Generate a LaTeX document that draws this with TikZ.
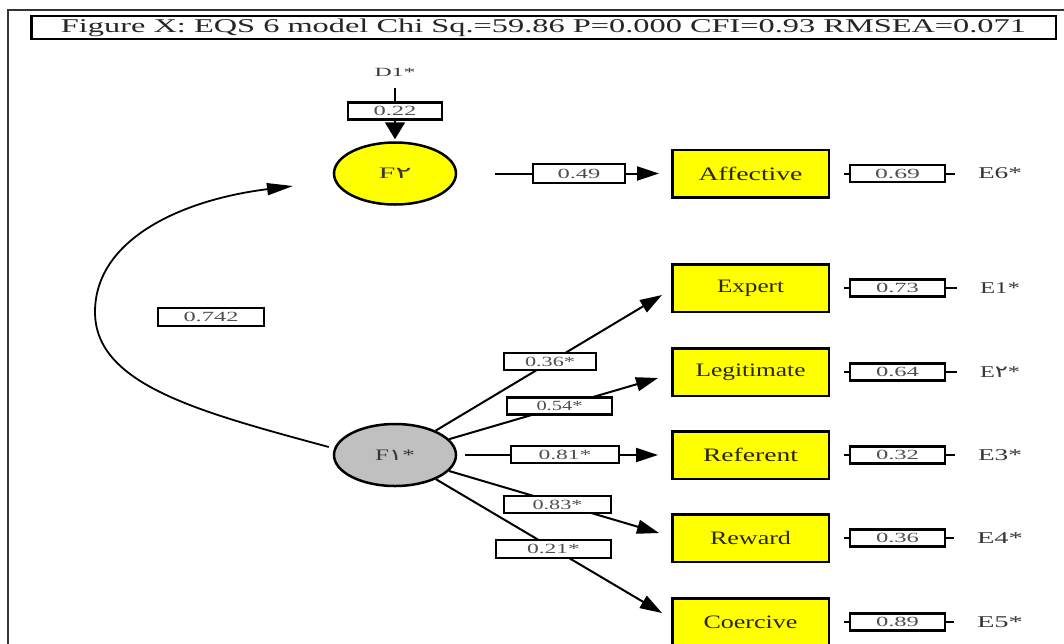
\documentclass[tikz,border=0pt]{standalone}
\usepackage{fontspec}
\setmainfont{Liberation Serif}
\newfontfamily\pfont{DejaVu Sans}
\usetikzlibrary{arrows.meta,shapes.geometric}
\newcommand{\fitw}[2]{\resizebox{#1}{\height}{#2}}
\definecolor{yel}{RGB}{255,255,0}
\definecolor{ell}{RGB}{192,192,192}
\definecolor{numc}{RGB}{80,80,80}
\definecolor{itc}{RGB}{40,40,0}
\definecolor{ec}{RGB}{55,55,55}
\begin{document}
\begin{tikzpicture}[x=1pt,y=-1pt,
  item/.style={draw=black, line width=2.5pt, fill=yel, minimum width=156.5pt, minimum height=47.5pt, inner sep=0pt, font=\fontsize{19}{19}\selectfont, text=itc},
  latent/.style={ellipse, draw=black, line width=2.5pt, minimum width=122pt, minimum height=62pt, inner sep=0pt, font=\fontsize{16}{16}\selectfont, text=ec},
  lab/.style={draw=black, line width=2.4pt, fill=white, inner sep=0pt, minimum height=17pt, font=\fontsize{14}{14}\selectfont, text=numc},
  errlab/.style={lab, minimum width=95pt},
  etext/.style={inner sep=0pt, font=\fontsize{16.5}{16.5}\selectfont, text=ec},
  conn/.style={line width=2pt, draw=black},
  arr/.style={conn, -{Triangle[length=22pt,width=14pt]}}
]
\useasboundingbox (0,0) rectangle (1064,643);
\clip (0,0) rectangle (1064,643);
\fill[white] (0,0) rectangle (1064,643);

% outer frame
\draw[line width=2pt, black!80] (8,660) -- (8,10) -- (1070,10);

% title
\node[draw=black, line width=2.5pt, minimum width=1024.5pt, minimum height=23pt, inner sep=0pt,
      font=\fontsize{19.5}{19.5}\selectfont, text=black!85] (title) at (543.5,27.5)
  {\fitw{965pt}{Figure X: EQS 6 model Chi Sq.=59.86 P=0.000 CFI=0.93 RMSEA=0.071}};

% latent variables
\node[inner sep=0pt, font=\fontsize{12.5}{12.5}\selectfont, text=ec] (D1) at (395,72) {\fitw{41pt}{D1*}};
\node[latent, fill=yel] (F2) at (395,173.5) {\fitw{33pt}{F{\pfont ۲}}};
\node[latent, fill=ell] (F1) at (395,455) {\fitw{40pt}{F{\pfont ۱}*}};

% indicators
\node[item] (Aff) at (750.5,173.5) {\fitw{104pt}{Affective}};
\node[item] (Exp) at (750.5,288) {\fitw{67pt}{Expert}};
\node[item] (Leg) at (750.5,372) {\fitw{110pt}{Legitimate}};
\node[item] (Ref) at (750.5,455) {\fitw{95pt}{Referent}};
\node[item] (Rew) at (750.5,538) {\fitw{81pt}{Reward}};
\node[item] (Coe) at (750.5,622) {\fitw{94pt}{Coercive}};

% error terms
\node[etext] (E6) at (1000,173.5) {\fitw{44pt}{E6*}};
\node[etext] (E1) at (1000,288) {\fitw{40pt}{E1*}};
\node[etext] (E2) at (1000,372) {\fitw{40pt}{E{\pfont ۲}*}};
\node[etext] (E3) at (1000,455) {\fitw{44pt}{E3*}};
\node[etext] (E4) at (1000,538) {\fitw{46pt}{E4*}};
\node[etext] (E5) at (1000,622) {\fitw{46pt}{E5*}};

% connectors
\draw[conn, shorten <=12pt, shorten >=2pt, -{Triangle[length=17pt,width=20pt]}] (D1) -- (F2);
\draw[arr, shorten <=38pt, shorten >=0pt] (F2) -- ([xshift=-12pt]Aff.west);
\draw[arr] (F1) -- ([shift={(-9,7)}]Exp.west);
\draw[arr] (F1) -- ([shift={(-13,6)}]Leg.west);
\draw[arr, shorten <=8pt] (F1) -- ([shift={(-13,0)}]Ref.west);
\draw[arr] (F1) -- ([shift={(-12,-5)}]Rew.west);
\draw[arr] (F1) -- ([shift={(-9,-9)}]Coe.west);

\foreach \e/\i in {E6/Aff,E1/Exp,E2/Leg,E3/Ref,E4/Rew,E5/Coe}{
  \draw[conn, shorten <=23pt, shorten >=14pt] (\e) -- (\i);
}

\coordinate (ctip) at (293,186);
\draw[line width=1.8pt, -{Triangle[length=26pt,width=12pt]}]
  ([shift={(-4,-8)}]F1.west) .. controls (200,412) and (95,385) .. (95,312)
  .. controls (95,240) and (180,200) .. (ctip);

% coefficient labels
\node[lab, minimum width=94pt] (l22) at (395,111) {\fitw{43pt}{0.22}};
\node[lab, minimum width=92pt, minimum height=19pt] (l49) at (579,173.5) {\fitw{43pt}{0.49}};
\node[lab, minimum width=92pt] (l36) at (550,361.5) {\fitw{50pt}{0.36*}};
\node[lab, minimum width=105pt] (l54) at (559.5,406) {\fitw{46pt}{0.54*}};
\node[lab, minimum width=108pt] (l81) at (565,454.5) {\fitw{53pt}{0.81*}};
\node[lab, minimum width=107pt] (l83) at (557.5,504.5) {\fitw{50pt}{0.83*}};
\node[lab, minimum width=115pt, minimum height=18pt] (l21) at (553.5,549) {\fitw{53pt}{0.21*}};
\node[lab, minimum width=106pt, minimum height=18pt] (l742) at (211,317) {\fitw{55pt}{0.742}};

\node[errlab] (v6) at (897.5,173.5) {\fitw{45pt}{0.69}};
\node[errlab] (v1) at (897.5,288) {\fitw{43pt}{0.73}};
\node[errlab] (v2) at (897.5,372) {\fitw{43pt}{0.64}};
\node[errlab] (v3) at (897.5,455) {\fitw{43pt}{0.32}};
\node[errlab] (v4) at (897.5,538) {\fitw{43pt}{0.36}};
\node[errlab] (v5) at (897.5,622) {\fitw{43pt}{0.89}};
\end{tikzpicture}
\end{document}
